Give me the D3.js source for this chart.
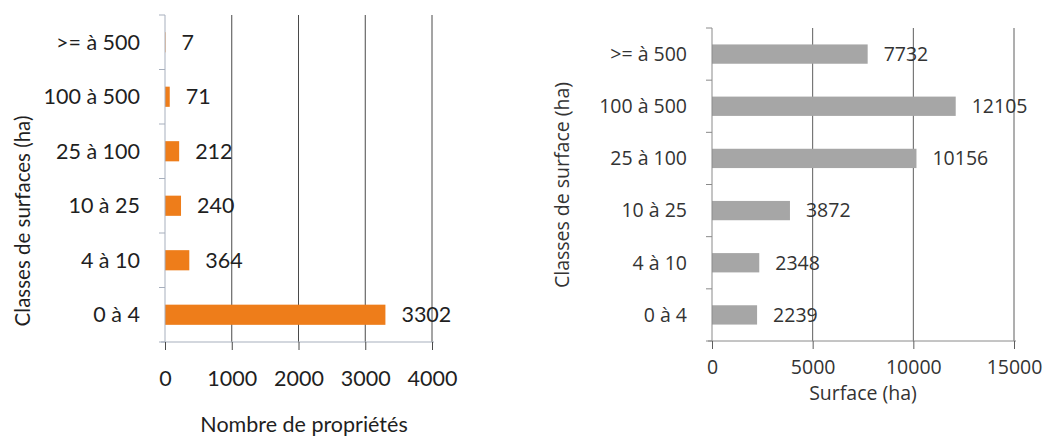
<!DOCTYPE html>
<html>
<head>
<meta charset="utf-8">
<script src="https://cdn.jsdelivr.net/npm/d3@7"></script>
<style>
  html, body { margin: 0; padding: 0; background: #fff; }
</style>
</head>
<body>
<svg id="chart" width="1047" height="440"></svg>
<script>
// Classes de surface, du bas vers le haut
const classes = ["0 à 4", "4 à 10", "10 à 25", "25 à 100", "100 à 500", ">= à 500"];
// Nombre de propriétés par classe
const nbProprietes = [3302, 364, 240, 212, 71, 7];
// Surface totale (ha) par classe
const surfaces = [2239, 2348, 3872, 10156, 12105, 7732];
// Graduations des axes
const ticksProprietes = [0, 1000, 2000, 3000, 4000];
const ticksSurfaces = [0, 5000, 10000, 15000];

const svg = d3.select("#chart");

function drawPanel(cfg) {
  const g = svg.append("g").attr("font-family", cfg.font);
  const rows = classes.map((c, i) => ({ c, v: cfg.values[i] }));

  const x = d3.scaleLinear().domain(cfg.domain).range([cfg.x0, cfg.x1]);
  const y = d3.scaleBand()
    .domain(classes.slice().reverse())
    .range([cfg.y0, cfg.y1])
    .paddingInner(0.63)
    .paddingOuter(0.315);

  // grille verticale
  g.selectAll("line.grid")
    .data(cfg.ticks.slice(1))
    .join("line")
    .attr("x1", d => x(d)).attr("x2", d => x(d))
    .attr("y1", cfg.y0).attr("y2", cfg.y1)
    .attr("stroke", cfg.gridColor).attr("stroke-width", 1);

  // barres
  g.selectAll("rect.bar")
    .data(rows)
    .join("rect")
    .attr("x", x(0))
    .attr("y", d => y(d.c))
    .attr("width", d => x(d.v) - x(0))
    .attr("height", y.bandwidth())
    .attr("fill", cfg.barColor);

  // étiquettes de valeur
  g.selectAll("text.val")
    .data(rows)
    .join("text")
    .attr("x", d => x(d.v) + 16)
    .attr("y", d => y(d.c) + y.bandwidth() / 2)
    .attr("dy", "0.35em")
    .attr("font-size", cfg.fs)
    .attr("fill", cfg.textColor)
    .text(d => d.v);

  // axe des x
  const xAxis = d3.axisBottom(x).tickValues(cfg.ticks).tickSize(8).tickPadding(cfg.xTickPad).tickFormat(d3.format("d"));
  const gx = g.append("g").attr("transform", `translate(0,${cfg.y1})`).call(xAxis);
  gx.attr("font-family", null);
  gx.select(".domain").attr("d", `M${cfg.x0 - 4},0H${cfg.x1 + 2}`).attr("stroke", cfg.axisColor);
  gx.selectAll(".tick line").attr("stroke", cfg.gridColor);
  gx.selectAll(".tick text").attr("font-size", cfg.fs).attr("fill", cfg.textColor);

  // axe des y
  const boundaries = d3.range(classes.length + 1).map(i => cfg.y0 + i * y.step());
  g.append("line")
    .attr("x1", cfg.x0).attr("x2", cfg.x0)
    .attr("y1", cfg.y0).attr("y2", cfg.y1)
    .attr("stroke", cfg.axisColor);
  g.selectAll("line.ytick")
    .data(boundaries)
    .join("line")
    .attr("x1", cfg.x0 - 6).attr("x2", cfg.x0)
    .attr("y1", d => d).attr("y2", d => d)
    .attr("stroke", cfg.axisColor);
  g.selectAll("text.cat")
    .data(classes)
    .join("text")
    .attr("x", cfg.x0 - 25)
    .attr("y", d => y(d) + y.bandwidth() / 2)
    .attr("dy", "0.35em")
    .attr("text-anchor", "end")
    .attr("font-size", cfg.fs)
    .attr("fill", cfg.textColor)
    .text(d => d);

  // titres des axes
  g.append("text")
    .attr("x", cfg.xTitleX).attr("y", cfg.xTitleY)
    .attr("text-anchor", "middle")
    .attr("font-size", cfg.fs)
    .attr("fill", cfg.textColor)
    .text(cfg.xTitle);
  g.append("text")
    .attr("transform", `translate(${cfg.yTitleX},${cfg.yTitleY}) rotate(-90)`)
    .attr("text-anchor", "middle")
    .attr("font-size", cfg.yTitleFs)
    .attr("fill", cfg.textColor)
    .text(cfg.yTitle);
}

drawPanel({
  values: nbProprietes,
  domain: [0, 4000],
  ticks: ticksProprietes,
  x0: 165, x1: 432, y0: 15, y1: 342,
  barColor: "#ee7d1a",
  gridColor: "#4a4a4a",
  axisColor: "#a7afbd",
  textColor: "#1f1f1f",
  font: "Lato, sans-serif",
  fs: 21.5,
  xTickPad: 21,
  xTitle: "Nombre de propriétés",
  xTitleX: 304, xTitleY: 432,
  yTitle: "Classes de surfaces (ha)",
  yTitleFs: 20.5,
  yTitleX: 30, yTitleY: 221
});

drawPanel({
  values: surfaces,
  domain: [0, 15000],
  ticks: ticksSurfaces,
  x0: 712, x1: 1014, y0: 28, y1: 341,
  barColor: "#a6a6a6",
  gridColor: "#5e5e5e",
  axisColor: "#8a8a8a",
  textColor: "#333",
  font: "'Open Sans', sans-serif",
  fs: 19.5,
  xTickPad: 11,
  xTitle: "Surface (ha)",
  xTitleX: 863, xTitleY: 400,
  yTitle: "Classes de surface (ha)",
  yTitleFs: 19.5,
  yTitleX: 569, yTitleY: 185
});
</script>
</body>
</html>
